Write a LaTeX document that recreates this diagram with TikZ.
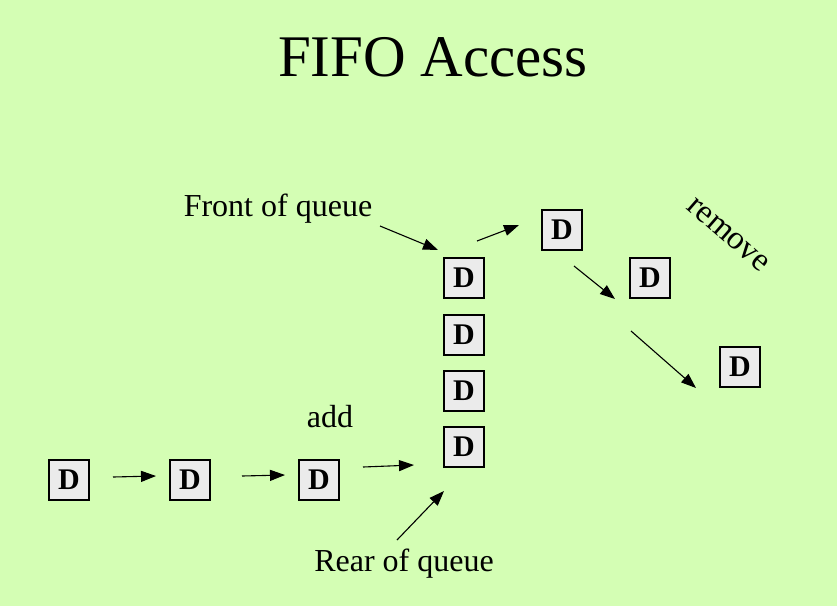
\documentclass[tikz,border=0pt]{standalone}
\usepackage{fontspec}
\setmainfont{Liberation Serif}
\usetikzlibrary{arrows.meta}
\definecolor{bgc}{RGB}{212,254,180}
\definecolor{boxc}{RGB}{235,235,235}
\tikzset{
  dbox/.style={draw=black, line width=1.2pt, fill=boxc, minimum width=40pt, minimum height=40pt, inner sep=0pt, font=\fontsize{30}{32}\selectfont\bfseries},
  arr/.style={line width=1.1pt, -{Triangle[length=15pt,width=11pt]}},
  lbl/.style={font=\fontsize{32}{36}\selectfont, inner sep=0pt}
}
\begin{document}
\begin{tikzpicture}[x=1pt,y=-1pt]
\fill[bgc] (0,0) rectangle (837,606);
\useasboundingbox (0,0) rectangle (837,606);
\node[font=\fontsize{59}{64}\selectfont, inner sep=0pt] (title) at (433,57) {FIFO Access};
\node[dbox] (b1) at (69,480) {D};
\node[dbox] (b2) at (190,480) {D};
\node[dbox] (b3) at (319,480) {D};
\node[dbox] (q1) at (464,278) {D};
\node[dbox] (q2) at (464,335) {D};
\node[dbox] (q3) at (464,391) {D};
\node[dbox] (q4) at (464,447) {D};
\node[dbox] (r1) at (562,230) {D};
\node[dbox] (r2) at (650,278) {D};
\node[dbox] (r3) at (740,367) {D};
\node[lbl] (front) at (278,209) {Front of queue};
\node[lbl] (add) at (330,417) {add};
\node[lbl] (rear) at (404,564) {Rear of queue};
\node[lbl, rotate=-41, font=\fontsize{33}{36}\selectfont] (remove) at (728,235) {remove};
\coordinate (a1s) at (113,477); \coordinate (a1e) at (156,476);
\coordinate (a2s) at (242,476); \coordinate (a2e) at (285,475);
\coordinate (a3s) at (363,467); \coordinate (a3e) at (414,465);
\coordinate (fs) at (380,226); \coordinate (fe) at (438,250);
\coordinate (r1s) at (477,241); \coordinate (r1e) at (519,225);
\coordinate (r2s) at (574,266); \coordinate (r2e) at (615,299);
\coordinate (r3s) at (631,331); \coordinate (r3e) at (696,388);
\coordinate (rs) at (397,540); \coordinate (re) at (444,491);
\draw[arr] (a1s) -- (a1e);
\draw[arr] (a2s) -- (a2e);
\draw[arr] (a3s) -- (a3e);
\draw[arr] (fs) -- (fe);
\draw[arr] (r1s) -- (r1e);
\draw[arr] (r2s) -- (r2e);
\draw[arr] (r3s) -- (r3e);
\draw[arr] (rs) -- (re);
\end{tikzpicture}
\end{document}
